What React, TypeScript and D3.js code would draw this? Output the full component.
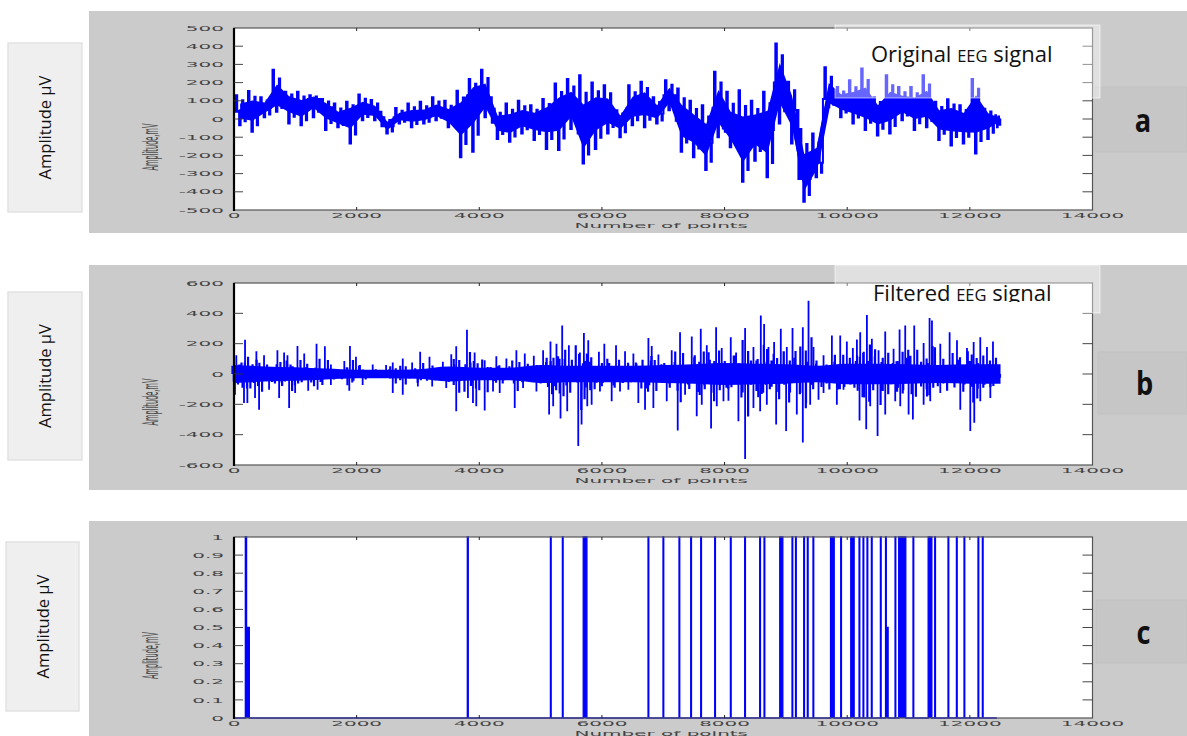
import React from "react";
import * as d3 from "d3";

// ---------- shared axis data ----------
const xTickValues = [0, 2000, 4000, 6000, 8000, 10000, 12000, 14000];
const xTickLabels = ["0", "2000", "4000", "6000", "8000", "10000", "12000", "14000"];
const xDomain = [0, 14000];

// ---------- panel a: original EEG (200-point bins: max, typical level, min) ----------
const origBin = 200;
const origEnd = 12500;
const origHigh = [130, 154, 120, 270, 150, 150, 130, 110, 85, 95, 135, 105, 10, 60, 85, 95, 120, 100, 155, 220, 270, 57, 85, 100, 75, 110, 195, 220, 240, 200, 185, 48, 185, 205, 120, 213, 167, 100, 75, 260, 150, 158, 100, 150, 415, 205, -55, -80, 285, 176, 213, 277, 120, 240, 176, 176, 240, 95, 110, 75, 220, 57, 20];
const origMid = [40, 50, 60, 110, 100, 60, 110, 65, -5, 30, 55, 40, -40, 10, 15, 10, 40, 10, 30, 130, 120, -20, -30, 0, -5, 20, 40, 80, -80, 40, 40, -10, 60, 90, 30, 130, -10, -50, -130, 60, -70, -130, -50, -60, 200, 50, -330, -240, 110, 95, 85, 70, 30, 60, 80, 60, 70, 0, 10, -10, 40, 5, 0];
const origLow = [-35, -70, 10, 40, -25, -35, 10, -60, -45, -135, -7, -7, -80, -25, -45, -25, -7, -45, -210, -180, 10, -110, -125, -80, -115, -165, -170, -55, -245, -165, -80, -100, -35, -45, -25, 48, -180, -210, -280, -100, -155, -345, -230, -320, -25, -135, -455, -320, 65, 10, -25, -60, -90, -80, -7, -60, -45, -115, -145, -135, -190, -110, -45];
const origTicks = [-500, -400, -300, -200, -100, 0, 100, 200, 300, 400, 500];

// ---------- panel b: filtered EEG ----------
const filtCoreBin = 500;
const filtCore = [60, 50, 45, 36, 28, 28, 32, 50, 42, 42, 60, 55, 55, 55, 60, 65, 72, 68, 64, 55, 68, 68, 64, 60, 64];
const filtUpAt = [38, 180, 365, 490, 708, 817, 872, 1035, 1145, 1346, 1482, 1580, 1799, 1891, 1989, 2055, 2262, 2480, 2589, 2752, 2905, 3036, 3188, 3406, 3543, 3624, 3799, 3924, 4088, 4278, 4442, 4605, 4742, 4889, 5041, 5161, 5259, 5352, 5461, 5641, 5706, 5777, 5951, 6039, 6230, 6377, 6513, 6758, 6812, 6921, 7138, 7274, 7465, 7612, 7710, 7862, 7954, 8101, 8188, 8335, 8471, 8591, 8645, 8716, 8808, 8917, 9015, 9108, 9276, 9369, 9450, 9614, 9750, 9886, 9994, 10092, 10158, 10212, 10321, 10402, 10511, 10620, 10756, 10854, 10946, 11093, 11246, 11343, 11382, 11518, 11670, 11790, 11953, 12062, 12170, 12279, 12377];
const filtUpVal = [124, 226, 150, 124, 157, 141, 124, 185, 135, 200, 183, 63, 85, 185, 113, 59, 63, 59, 76, 102, 76, 146, 113, 80, 130, 183, 291, 141, 91, 117, 102, 157, 135, 120, 157, 215, 200, 320, 189, 141, 270, 222, 146, 200, 189, 150, 135, 237, 185, 128, 157, 276, 248, 298, 189, 309, 172, 243, 141, 304, 178, 385, 330, 178, 211, 298, 178, 304, 309, 483, 178, 124, 254, 254, 215, 172, 228, 276, 389, 233, 157, 280, 167, 293, 320, 320, 204, 370, 352, 200, 276, 222, 172, 211, 243, 178, 215];
const filtDownAt = [16, 163, 218, 343, 409, 572, 736, 899, 997, 1210, 1363, 1580, 1880, 2098, 2589, 2752, 2998, 3232, 3461, 3624, 3815, 3897, 3951, 4088, 4224, 4333, 4578, 4714, 4932, 5139, 5205, 5325, 5434, 5614, 5668, 5761, 5832, 5968, 6159, 6295, 6431, 6594, 6703, 6839, 7057, 7236, 7356, 7546, 7628, 7780, 7873, 7982, 8063, 8226, 8335, 8471, 8580, 8689, 8841, 9004, 9178, 9276, 9396, 9532, 9614, 9831, 9940, 10201, 10310, 10375, 10495, 10620, 10783, 10865, 11001, 11071, 11246, 11354, 11518, 11626, 11844, 12007, 12072, 12170, 12334, 12442];
const filtDownVal = [-137, -191, -191, -159, -235, -104, -159, -224, -126, -111, -104, -72, -111, -72, -126, -137, -83, -83, -93, -246, -159, -191, -213, -241, -115, -126, -224, -93, -115, -267, -213, -293, -246, -474, -333, -213, -202, -115, -180, -115, -104, -191, -235, -224, -180, -372, -137, -278, -202, -359, -213, -180, -176, -311, -561, -224, -246, -202, -333, -376, -267, -452, -202, -170, -126, -202, -104, -306, -365, -213, -409, -267, -180, -213, -267, -300, -202, -180, -126, -104, -235, -376, -322, -180, -159, -50];
const filtTicks = [-600, -400, -200, 0, 200, 400, 600];

// ---------- panel c: detection output pulses ----------
const pulseStart = [185, 205, 3805, 5160, 5355, 5695, 6752, 6996, 7257, 7448, 7611, 7839, 8095, 8328, 8573, 8644, 8900, 9100, 9157, 9291, 9350, 9442, 9728, 9894, 10058, 10193, 10258, 10323, 10394, 10541, 10625, 10637, 10780, 10840, 11073, 11320, 11427, 11644, 11781, 11905, 12133, 12204];
const pulseWidth = [20, 45, 15, 12, 12, 60, 12, 12, 12, 12, 12, 12, 12, 12, 12, 12, 50, 12, 12, 12, 12, 12, 60, 12, 55, 12, 12, 12, 12, 12, 12, 30, 12, 115, 12, 60, 12, 12, 12, 12, 12, 12];
const pulseHeight = [1, 0.5, 1, 1, 1, 1, 1, 1, 1, 1, 1, 1, 1, 1, 1, 1, 1, 1, 1, 1, 1, 1, 1, 1, 1, 1, 1, 1, 1, 1, 1, 0.5, 1, 1, 1, 1, 1, 1, 1, 1, 1, 1];
const pulseEnd = 12440;
const binTicks = [0, 0.1, 0.2, 0.3, 0.4, 0.5, 0.6, 0.7, 0.8, 0.9, 1];
const binTickLabels = ["0", "0.1", "0.2", "0.3", "0.4", "0.5", "0.6", "0.7", "0.8", "0.9", "1"];

// ---------- text ----------
const sideLabel = "Amplitude \u03bcV";
const axisYLabel = "Amplitude,mV";
const axisXLabel = "Number of points";

const BLUE = "#0000ff";
const GREY = "#cbcbcb";
const PL = 234;
const PR = 1092.5;

type PanelGeom = {
  g0: number; g1: number; top: number; bottom: number;
  side: [number, number, number, number];
  letterBox: [number, number, number, number];
  letter: string;
};

const geomA: PanelGeom = { g0: 11, g1: 233, top: 28, bottom: 210, side: [8, 43, 74, 169], letterBox: [1095, 87, 92, 65], letter: "a" };
const geomB: PanelGeom = { g0: 265, g1: 490, top: 283, bottom: 465, side: [8, 292, 74, 168], letterBox: [1098, 352, 89, 62], letter: "b" };
const geomC: PanelGeom = { g0: 521, g1: 736, top: 537, bottom: 718, side: [6, 542, 73, 169], letterBox: [1096, 600, 91, 63], letter: "c" };

function MText({ x, y, text, anchor = "middle" }: { x: number; y: number; text: string; anchor?: string }) {
  return (
    <text transform={`translate(${x},${y}) scale(2,0.72)`} textAnchor={anchor as any} fontFamily="DejaVu Sans" fontSize={10} fill="#444">
      {text}
    </text>
  );
}

function Panel({ geom, yScale, ticks, labels, x, children }: any) {
  const { g0, g1, top, bottom, side, letterBox, letter } = geom as PanelGeom;
  const sideCx = side[0] + side[2] / 2;
  const sideCy = side[1] + side[3] / 2;
  const midY = (top + bottom) / 2;
  return (
    <g>
      <rect x={89} y={g0} width={1187 - 89} height={g1 - g0} fill={GREY} />
      <rect x={side[0]} y={side[1]} width={side[2]} height={side[3]} fill="#efefef" stroke="#e2e2e2" strokeWidth={1.5} />
      <text transform={`translate(${sideCx + 6},${sideCy}) rotate(-90)`} textAnchor="middle" fontFamily="Open Sans" fontSize={16.5} fill="#111">
        {sideLabel}
      </text>
      <rect x={letterBox[0]} y={letterBox[1]} width={letterBox[2]} height={letterBox[3]} fill="#c6c6c6" stroke="#c2c2c2" />
      <text transform={`translate(${letterBox[0] + letterBox[2] / 2 + 2},${letterBox[1] + letterBox[3] / 2 + 12}) scale(0.85,1)`} textAnchor="middle" fontFamily="Open Sans" fontWeight={700} fontSize={32} fill="#111">
        {letter}
      </text>
      <rect x={PL} y={top} width={PR - PL} height={bottom - top} fill="#fff" />
      {children}
      <rect x={PL} y={top} width={PR - PL} height={bottom - top} fill="none" stroke="#555" strokeWidth={1.2} />
      <line x1={PL} x2={PL} y1={top} y2={bottom + 1} stroke="#000" strokeWidth={2.2} />
      {ticks.map((t: number, i: number) => {
        const yy = yScale(t);
        return (
          <g key={"y" + i}>
            {i > 0 && i < ticks.length - 1 && <line x1={PL} x2={PL + 9} y1={yy} y2={yy} stroke="#333" strokeWidth={0.9} />}
            {i > 0 && i < ticks.length - 1 && <line x1={PR - 10} x2={PR} y1={yy} y2={yy} stroke="#333" strokeWidth={0.9} />}
            <MText x={224} y={yy + 2.6} text={labels[i]} anchor="end" />
          </g>
        );
      })}
      {xTickValues.map((t, i) => {
        const xx = x(t);
        return (
          <g key={"x" + i}>
            {i > 0 && i < xTickValues.length - 1 && <line x1={xx} x2={xx} y1={top} y2={top + 3} stroke="#222" strokeWidth={1} />}
            {i > 0 && i < xTickValues.length - 1 && <line x1={xx} x2={xx} y1={bottom - 3} y2={bottom} stroke="#222" strokeWidth={1} />}
            <MText x={xx} y={bottom + 8.2} text={xTickLabels[i]} />
          </g>
        );
      })}
      <MText x={x(7000) - 2} y={bottom + 17.5} text={axisXLabel} />
      <text transform={`translate(158,${midY + 28}) rotate(-90) scale(0.66,2.1)`} textAnchor="middle" fontFamily="DejaVu Sans" fontSize={10} fill="#4a4a4a">
        {axisYLabel}
      </text>
    </g>
  );
}

export default function App() {
  const x = d3.scaleLinear().domain(xDomain).range([PL, PR]);
  const yA = d3.scaleLinear().domain([-500, 500]).range([geomA.bottom, geomA.top]);
  const yB = d3.scaleLinear().domain([-600, 600]).range([geomB.bottom, geomB.top]);
  const yC = d3.scaleLinear().domain([0, 1]).range([geomC.bottom, geomC.top]);

  // panel a: dense mass around the typical level, thin excursions to each bin's max and min
  const binW = (i: number) => Math.min(origBin, origEnd - i * origBin);
  const massPts = origMid.map((m, i) => ({ p: i * origBin + binW(i) / 2, m, h: origHigh[i], l: origLow[i] }));
  const massArea = d3
    .area<{ p: number; m: number; h: number; l: number }>()
    .x((d) => x(d.p))
    .y0((d) => yA((d.m + d.l) / 2))
    .y1((d) => yA((d.m + d.h) / 2))(massPts) || "";
  const midLine = d3.line<{ p: number; m: number }>().x((d) => x(d.p)).y((d) => yA(d.m))(massPts) || "";
  const excPts: [number, number][] = [];
  origHigh.forEach((h, i) => {
    const s = i * origBin;
    const w = binW(i);
    const m = origMid[i];
    const l = origLow[i];
    excPts.push(
      [s + w * 0.02, m], [s + w * 0.14, h], [s + w * 0.26, m], [s + w * 0.42, l], [s + w * 0.54, m],
      [s + w * 0.66, m + (h - m) * 0.7], [s + w * 0.76, m], [s + w * 0.86, m + (l - m) * 0.7], [s + w * 0.96, m]
    );
  });
  const excLine = d3.line<[number, number]>().x((d) => x(d[0])).y((d) => yA(d[1])).curve(d3.curveStepAfter)(excPts) || "";

  // panel b: core band + spikes
  const corePts = filtCore.map((c, i) => ({ p: i * filtCoreBin, c }));
  corePts.push({ p: filtCore.length * filtCoreBin, c: filtCore[filtCore.length - 1] });
  const coreArea = d3
    .area<{ p: number; c: number }>()
    .x((d) => x(d.p))
    .y0((d) => yB(-d.c))
    .y1((d) => yB(d.c))
    .curve(d3.curveMonotoneX)(corePts) || "";
  const spikePath =
    filtUpAt.map((p, i) => `M${x(p)},${yB(0)}V${yB(filtUpVal[i])}`).join("") +
    filtDownAt.map((p, i) => `M${x(p)},${yB(0)}V${yB(filtDownVal[i])}`).join("");
  const raggedPath =
    filtUpAt.map((p, i) => `M${x(p) + 3},${yB(0)}V${yB(filtUpVal[i] * 0.5)}`).join("") +
    filtDownAt.map((p, i) => `M${x(p) + 3},${yB(0)}V${yB(filtDownVal[i] * 0.5)}`).join("") +
    filtUpAt.map((p, i) => `M${x(p) - 2.5},${yB(0)}V${yB(-filtUpVal[i] * 0.4)}`).join("") +
    filtDownAt.map((p, i) => `M${x(p) - 2.5},${yB(0)}V${yB(-filtDownVal[i] * 0.4)}`).join("");

  // panel c: pulses
  const pulsePts: [number, number][] = [[0, 0]];
  pulseStart.forEach((s, i) => {
    const e = s + pulseWidth[i];
    pulsePts.push([s, 0], [s, pulseHeight[i]], [e, pulseHeight[i]], [e, 0]);
  });
  pulsePts.push([pulseEnd, 0]);
  const pulseArea = d3.area<[number, number]>().x((d) => x(d[0])).y0(yC(0)).y1((d) => yC(d[1]))(pulsePts) || "";
  const pulseLine = d3.line<[number, number]>().x((d) => x(d[0])).y((d) => yC(d[1]))(pulsePts) || "";

  return (
    <svg width={1187} height={736} style={{ position: "absolute", left: 0, top: 0, background: "#fff" }} xmlns="http://www.w3.org/2000/svg">
      <defs>
        <clipPath id="clipB">
          <rect x={835} y={265} width={265} height={37} />
        </clipPath>
      </defs>
      <rect x={0} y={0} width={1187} height={736} fill="#fff" />

      <Panel geom={geomA} yScale={yA} ticks={origTicks} labels={origTicks.map(String)} x={x}>
        <path d={massArea} fill={BLUE} />
        <path d={midLine} fill="none" stroke={BLUE} strokeWidth={5} strokeLinejoin="round" strokeLinecap="round" />
        <path d={excLine} fill="none" stroke={BLUE} strokeWidth={2} />
      </Panel>

      <Panel geom={geomB} yScale={yB} ticks={filtTicks} labels={filtTicks.map(String)} x={x}>
        <path d={coreArea} fill={BLUE} />
        <path d={raggedPath} fill="none" stroke={BLUE} strokeWidth={2.2} />
        <path d={spikePath} fill="none" stroke={BLUE} strokeWidth={1.8} />
      </Panel>

      <Panel geom={geomC} yScale={yC} ticks={binTicks} labels={binTickLabels} x={x}>
        <path d={pulseArea} fill={BLUE} />
        <path d={pulseLine} fill="none" stroke={BLUE} strokeWidth={1.3} />
      </Panel>

      {/* title overlays */}
      <rect x={835} y={25} width={265} height={73} fill="#fff" fillOpacity={0.4} stroke="#fff" strokeOpacity={0.6} />
      <text x={871} y={62} fontFamily="Open Sans" fontSize={22} fill="#111">
        Original <tspan fontSize={16.5}>EEG</tspan> signal
      </text>

      <rect x={835} y={265} width={265} height={48} fill="#fff" fillOpacity={0.4} stroke="#fff" strokeOpacity={0.6} />
      <g clipPath="url(#clipB)">
        <text x={873} y={301} fontFamily="Open Sans" fontSize={22} fill="#111">
          Filtered <tspan fontSize={16.5}>EEG</tspan> signal
        </text>
      </g>
    </svg>
  );
}
